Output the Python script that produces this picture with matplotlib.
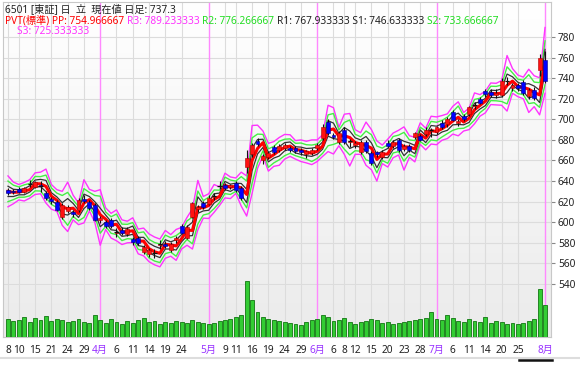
import matplotlib
matplotlib.use('Agg')
import matplotlib.pyplot as plt
import numpy as np

# ---------------- data ----------------
dates = ['03-08','03-09','03-10','03-13','03-14','03-15','03-16','03-17','03-21','03-22',
         '03-23','03-24','03-27','03-28','03-29','03-30','03-31',
         '04-03','04-04','04-05','04-06','04-07','04-10','04-11','04-12','04-13','04-14',
         '04-17','04-18','04-19','04-20','04-21','04-24','04-25','04-26','04-27','04-28',
         '05-01','05-02','05-08','05-09','05-10','05-11','05-12','05-15','05-16','05-17',
         '05-18','05-19','05-22','05-23','05-24','05-25','05-26','05-29','05-30','05-31',
         '06-01','06-02','06-05','06-06','06-07','06-08','06-09','06-12','06-13','06-14',
         '06-15','06-16','06-19','06-20','06-21','06-22','06-23','06-26','06-27','06-28',
         '06-29','06-30',
         '07-03','07-04','07-05','07-06','07-07','07-10','07-11','07-12','07-13','07-14',
         '07-18','07-19','07-20','07-21','07-24','07-25','07-26','07-27','07-28','07-31',
         '08-01']

opens = [631,630,632,629,637,634,636,628,623,620,605,611,610,612,623,620,617,
         602,600,602,590,592,589,584,585,571,569,570,578,579,573,583,596,585,605,613,619,
         618,625,635,636,634,638,633,654,666,679,660,663,673,670,672,672,672,670,666,667,
         672,682,697,685,678,690,678,675,668,678,667,668,663,677,674,680,671,674,683,684,686,689,
         688,696,695,707,696,703,705,713,720,727.5,727,724,724,737,730,733,736,723,728.5,748,
         758]
highs = [633,632,634,634,641,640,640,630,625,622,619,617,612,624,626,622,619,
         606,602,604,594,595,595,586,587,578,575,574,583,582,581,587,598,597,620,617,621,
         626,628,640,638,637,640,635,670,677,682,666,669,675,676,677,674,674,672,670,672,
         677,695,700,687,689,693,681,679,680,680,669,669,670,680,680,682,676,676,688,686,693,692,
         694,699,702,709,700,705,713,717,722,729,729,729,740,741,735,735,738,730,731,763.3,
         766]
lows = [626,627,628,628,634,633,629,622,618,611,603,609,605,610,619,612,601,
        599,594,594,586,588,587,578,578,569,566,565,574,575,571,580,589,584,604,610,613,
        617,622,632,631,632,629,622,648,663,674,657,661,666,668,670,668,667,665,662,665,
        670,680,685,681,676,676,673,672,666,667,656,663,661,672,672,668,669,668,681,679,684,683,
        686,691,693,698,694,698,703,710,715,722,722,721,722,733,728,728,724,720,719,742.0,
        735]
closes = [628,629,629,633,637.5,639,635.5,624,621,612,617,615,608,622,621,614,602,
          604,596,596,590.5,590,593,581,580,576,573,570.5,578.5,577,579,585,590,595,619,615,615,
          624,625.5,635.5,633,636,631,624,662,675,676,664,667,668,674,675,670,669,668,669,670,
          675,693,687,683,687,678,678.5,677,678,669,658,666,668,674,678,670,674,670,687,680,690,689.5,
          692.5,692.5,700,699,698,700,712,713.5,716,724.5,724,726,737,737.5,733,730,726,728.5,721,759.6,
          737.3]
volumes = [18,16,17,20,15,19,17,21,16,18,17,15,16,18,15,14,22,
           17,14,18,15,13,16,14,17,19,15,16,13,15,14,16,15,14,17,15,14,
           13,14,16,17,18,20,22,56,37,25,20,18,17,16,15,14,13,12,15,17,
           18,22,20,16,17,19,15,13,15,16,18,17,14,15,13,14,15,16,17,18,19,25,
           18,17,22,19,16,15,18,16,15,20,14,16,15,13,14,13,14,16,18,48,
           32]
prev_hlc = (635, 625, 630)   # 03-07 high, low, close (pivot base for first day)

tick_dates = ['03-08','03-10','03-15','03-21','03-24','03-29','04-03','04-06','04-11','04-14',
              '04-19','04-24','05-01','05-09','05-11','05-16','05-19','05-24','05-29','06-01',
              '06-06','06-08','06-12','06-15','06-20','06-23','06-28','07-03','07-06','07-11',
              '07-14','07-20','07-25','08-01']
price_ticks = [540,560,580,600,620,640,660,680,700,720,740,760,780]
title_text = '6501 [東証] 日  立  現在値 日足: '

# ---------------- derived ----------------
o = np.array(opens, float); h = np.array(highs, float)
l = np.array(lows, float); c = np.array(closes, float)
v = np.array(volumes, float)
x = np.arange(len(dates))
H = np.r_[prev_hlc[0], h[:-1]]; L = np.r_[prev_hlc[1], l[:-1]]; C = np.r_[prev_hlc[2], c[:-1]]
PP = (H + L + C) / 3
R1 = 2 * PP - L; S1 = 2 * PP - H
R2 = PP + (H - L); S2 = PP - (H - L)
R3 = H + 2 * (PP - L); S3 = L - 2 * (H - PP)

# ---------------- figure ----------------
W, Hpx = 580, 365
fig = plt.figure(figsize=(W / 100, Hpx / 100), dpi=100)
fig.patch.set_facecolor('white')
FONT = ['Noto Sans', 'Noto Sans CJK JP', 'DejaVu Sans']
plt.rcParams['font.family'] = FONT

left, right, top, bottom = 3, 551, 2, 337
ax = fig.add_axes([left / W, 1 - bottom / Hpx, (right - left) / W, (bottom - top) / Hpx])
ax.set_xlim(-0.92, 100.1)
ax.set_ylim(488.5, 814)

# gradient background
grad = np.linspace(1.0, 0.0, 256).reshape(-1, 1)
ax.imshow(grad, extent=[-0.92, 100.1, 488.5, 814], aspect='auto', cmap=plt.cm.colors.LinearSegmentedColormap.from_list('g', ['#ececec', '#ffffff']),
          origin='lower', zorder=0, vmin=0, vmax=1)
ax.imshow(np.linspace(0, 1, 256).reshape(-1, 1), extent=[-0.92, 100.1, 488.5, 814], aspect='auto',
          cmap=plt.cm.colors.LinearSegmentedColormap.from_list('g', ['#ebebeb', '#ffffff']),
          origin='lower', zorder=0, vmin=0, vmax=1)

# grid
tick_pos = [dates.index(d) for d in tick_dates]
for p in price_ticks:
    ax.axhline(p, color='#dcdcdc', lw=0.8, zorder=1)
month_pos = [i for i in range(len(dates)) if i > 0 and dates[i][:2] != dates[i - 1][:2]]
for tp in tick_pos:
    if tp not in month_pos:
        ax.axvline(tp, color='#dcdcdc', lw=0.8, zorder=1)
for mp in month_pos:
    ax.axvline(mp, color='#ff88ff', lw=1.0, zorder=1.5)

# pivot lines
ax.plot(x, R3, color='#ff33ff', lw=1.0, zorder=2)
ax.plot(x, S3, color='#ff33ff', lw=1.0, zorder=2)
ax.plot(x, R2, color='#44ee44', lw=1.0, zorder=2)
ax.plot(x, S2, color='#44ee44', lw=1.0, zorder=2)
ax.plot(x, R1, color='#333333', lw=0.9, zorder=2)
ax.plot(x, S1, color='#333333', lw=0.9, zorder=2)
ax.plot(x, PP, color='#ff0000', lw=2.2, zorder=2.5)

# candles
up = c >= o
ax.vlines(x, l, h, color='#111111', lw=0.8, zorder=3)
body_h = np.where(np.abs(c - o) < 0.6, 0.6, c - o)
ax.bar(x[up], body_h[up], bottom=o[up], width=0.72, color='#ff1111', edgecolor='#aa0000',
       linewidth=0.4, zorder=4)
ax.bar(x[~up], (c - o)[~up], bottom=o[~up], width=0.72, color='#0000ff', edgecolor='#000088',
       linewidth=0.4, zorder=4)
doji = np.abs(c - o) < 0.6
ax.hlines(c[doji], x[doji] - 0.4, x[doji] + 0.4, color='#111111', lw=0.9, zorder=4)

# volume on twin axis
ax2 = ax.twinx()
ax2.set_ylim(0, 335)
ax2.bar(x, v, width=0.72, color='#33cc33', edgecolor='#117711', linewidth=0.6, zorder=3)
ax2.set_yticks([])
for s in ax2.spines.values():
    s.set_visible(False)

# axes styling
ax.yaxis.tick_right()
ax.set_yticks(price_ticks)
ax.set_yticklabels([str(p) for p in price_ticks], fontsize=7.3, color='#222222')
ax.tick_params(axis='y', length=3, color='#888888', pad=2)
labels = []
colors = []
for tp in tick_pos:
    d = dates[tp]
    if tp in month_pos:
        labels.append(f'{int(d[:2])}月'); colors.append('#9933ff')
    else:
        labels.append(str(int(d[3:]))); colors.append('#222222')
ax.set_xticks(tick_pos)
ax.set_xticklabels(labels, fontsize=7.3)
for t, col in zip(ax.get_xticklabels(), colors):
    t.set_color(col)
ax.tick_params(axis='x', length=0, pad=6)
for s in ax.spines.values():
    s.set_color('#c8c8c8'); s.set_linewidth(0.8)

# bottom scrollbar look
fig.add_artist(plt.Line2D([0, 1], [1 - 358 / Hpx] * 2, color='#dddddd', lw=1.5))
fig.add_artist(plt.Line2D([519 / W, 552 / W], [1 - 360 / Hpx] * 2, color='#111111', lw=1.8))

# header texts
fig.canvas.draw()
rend = fig.canvas.get_renderer()

def seq_text(x0, y, parts):
    xx = x0
    for s, col in parts:
        t = fig.text(xx / W, 1 - y / Hpx, s, color=col, fontsize=7.3, va='center', ha='left',
                     family=FONT, zorder=10)
        bb = t.get_window_extent(renderer=rend)
        xx += bb.width

seq_text(5, 10, [(title_text + f'{c[-1]:.1f}', '#222222')])
last = len(x) - 1
seq_text(5, 21, [(f'PVT(標準) PP: {PP[last]:.6f} ', '#ff0000'),
                 (f'R3: {R3[last]:.6f} ', '#ff33ff'),
                 (f'R2: {R2[last]:.6f} ', '#22dd22'),
                 (f'R1: {R1[last]:.6f} S1: {S1[last]:.6f} ', '#222222'),
                 (f'S2: {S2[last]:.6f}', '#22dd22')])
seq_text(17, 32, [(f'S3: {S3[last]:.6f}', '#ff33ff')])

fig.savefig('out.png', dpi=100)
